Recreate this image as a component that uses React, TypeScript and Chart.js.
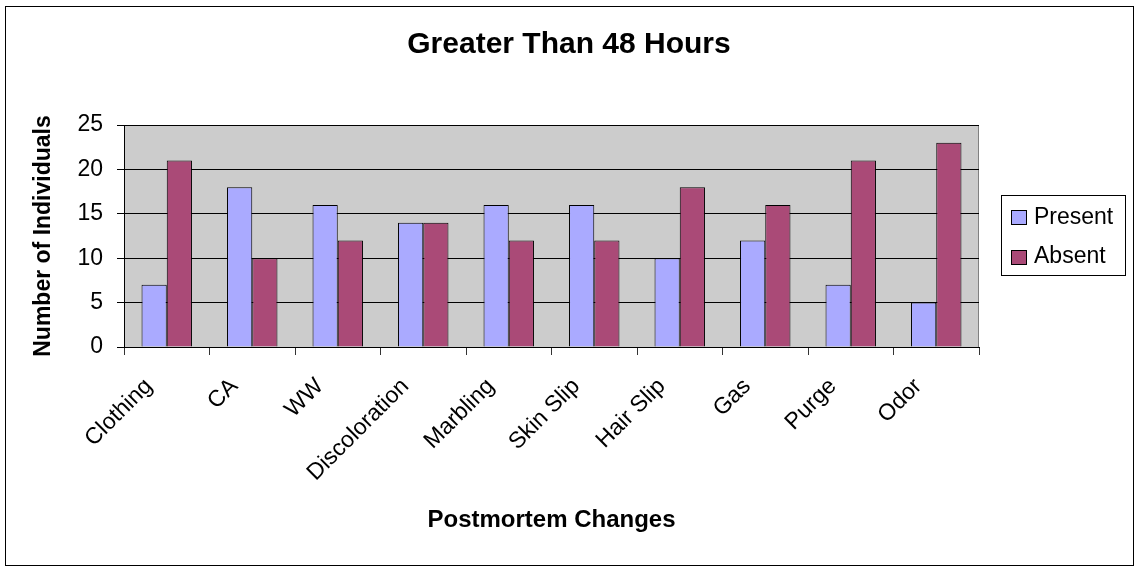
import React, { useEffect, useRef } from 'react';
import { Chart, registerables } from 'chart.js';

Chart.register(...registerables);

const categories = ['Clothing', 'CA', 'WW', 'Discoloration', 'Marbling', 'Skin Slip', 'Hair Slip', 'Gas', 'Purge', 'Odor'];
const presentValues = [7, 18, 16, 14, 16, 16, 10, 12, 7, 5];
const absentValues = [21, 10, 12, 14, 12, 12, 18, 16, 21, 23];
const yTickValues = [0, 5, 10, 15, 20, 25];
const seriesNames = ['Present', 'Absent'];
const seriesColors = ['#AAAAFF', '#AA4A77'];
const chartTitle = 'Greater Than 48 Hours';
const xAxisTitle = 'Postmortem Changes';
const yAxisTitle = 'Number of Individuals';

const FONT = '"Liberation Sans", Arial, Helvetica, sans-serif';

const decorPlugin = {
  id: 'decor',
  beforeDraw(chart: any) {
    const { ctx, chartArea: a, width, height } = chart;
    ctx.save();
    ctx.fillStyle = '#ffffff';
    ctx.fillRect(0, 0, width, height);
    ctx.fillStyle = '#CCCCCC';
    ctx.fillRect(a.left, a.top, a.right - a.left, a.bottom - a.top);
    ctx.strokeStyle = '#808080';
    ctx.lineWidth = 1;
    ctx.beginPath();
    ctx.moveTo(Math.round(a.right) - 0.5, a.top);
    ctx.lineTo(Math.round(a.right) - 0.5, a.bottom);
    ctx.stroke();
    ctx.strokeStyle = '#000000';
    ctx.strokeRect(5.5, 6.5, 1128, 559);
    ctx.fillStyle = '#000000';
    ctx.font = `bold 30px ${FONT}`;
    ctx.textAlign = 'center';
    ctx.textBaseline = 'alphabetic';
    ctx.fillText(chartTitle, 569, 53);
    ctx.restore();
  },
  afterDraw(chart: any) {
    const { ctx } = chart;
    ctx.save();
    ctx.strokeStyle = '#000000';
    ctx.lineWidth = 1;
    ctx.strokeRect(1001.5, 195.5, 124, 80);
    chart.data.datasets.forEach((ds: any, i: number) => {
      const y = 210 + i * 39.5;
      ctx.fillStyle = ds.backgroundColor;
      ctx.fillRect(1011.5, Math.round(y) + 0.5, 15, 14);
      ctx.strokeRect(1011.5, Math.round(y) + 0.5, 15, 14);
      ctx.fillStyle = '#000000';
      ctx.font = `23px ${FONT}`;
      ctx.textAlign = 'left';
      ctx.textBaseline = 'alphabetic';
      ctx.fillText(ds.label, 1034, y + 13.5);
    });
    ctx.restore();
  },
};

export default function App() {
  const canvasRef = useRef<HTMLCanvasElement>(null);

  useEffect(() => {
    if (!canvasRef.current) return;
    const chart = new Chart(canvasRef.current, {
      type: 'bar',
      data: {
        labels: categories,
        datasets: [
          {
            label: seriesNames[0],
            data: presentValues,
            backgroundColor: seriesColors[0],
            borderColor: '#000000',
            borderWidth: 1,
            categoryPercentage: 0.59,
            barPercentage: 1.0,
          },
          {
            label: seriesNames[1],
            data: absentValues,
            backgroundColor: seriesColors[1],
            borderColor: '#000000',
            borderWidth: 1,
            categoryPercentage: 0.59,
            barPercentage: 1.0,
          },
        ],
      },
      options: {
        responsive: false,
        animation: false,
        layout: { padding: { left: 0, right: 157, top: 125, bottom: 0 } },
        plugins: {
          legend: { display: false },
          title: { display: false },
          tooltip: { enabled: false },
        },
        scales: {
          x: {
            grid: { offset: true, drawOnChartArea: false, drawTicks: true, tickLength: 8, color: '#333333' },
            border: { color: '#000000' },
            ticks: {
              minRotation: 45,
              maxRotation: 45,
              autoSkip: false,
              color: '#000000',
              font: { family: FONT, size: 23 },
              padding: 18,
              labelOffset: -18,
            },
            title: {
              display: true,
              text: xAxisTitle,
              color: '#000000',
              font: { family: FONT, size: 24, weight: 'bold' },
              padding: { top: 0, bottom: 33 },
            },
            afterFit(scale: any) {
              scale.height = 221;
            },
          },
          y: {
            min: 0,
            max: 25,
            afterBuildTicks(scale: any) {
              scale.ticks = yTickValues.map((v) => ({ value: v }));
            },
            ticks: {
              color: '#000000',
              font: { family: FONT, size: 23 },
              padding: 14,
            },
            grid: { color: '#000000', tickLength: 7, drawTicks: true },
            border: { color: '#000000' },
            title: {
              display: true,
              text: yAxisTitle,
              color: '#000000',
              font: { family: FONT, size: 23, weight: 'bold' },
              padding: { top: 30, bottom: 0 },
            },
            afterFit(scale: any) {
              scale.width = 124;
            },
          },
        },
      },
      plugins: [decorPlugin],
    });
    return () => chart.destroy();
  }, []);

  return (
    <div style={{ position: 'fixed', left: 0, top: 0, width: 1136, height: 568 }}>
      <canvas ref={canvasRef} width={1136} height={568} style={{ display: 'block' }} />
    </div>
  );
}
